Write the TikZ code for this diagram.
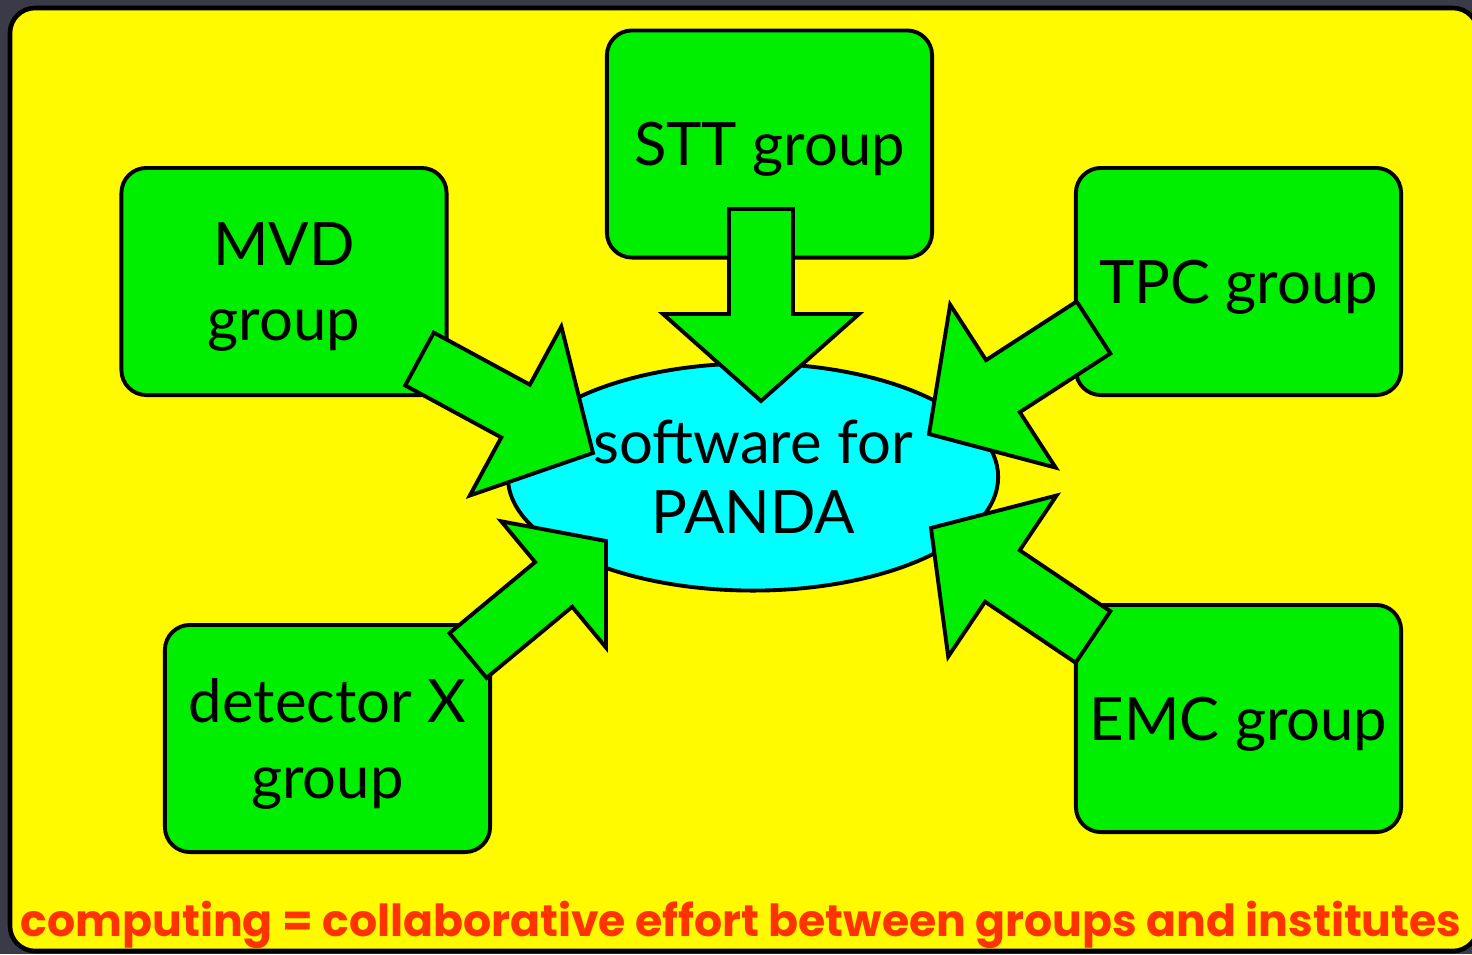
\documentclass[tikz,border=0pt]{standalone}
\usepackage{fontspec}
\setmainfont{Lato}
\newfontfamily\notefont{Poppins}
\usepackage{tikz}
\usetikzlibrary{positioning,calc,shapes.geometric}
\definecolor{myyel}{RGB}{255,250,0}
\definecolor{mygre}{RGB}{0,238,0}
\definecolor{mycya}{RGB}{0,255,255}
\definecolor{myred}{RGB}{255,51,0}
\definecolor{myslate}{RGB}{58,58,72}
\tikzstyle{group} = [rectangle, rounded corners=0.25cm, minimum width=3.25cm, minimum height=2.27cm, inner sep=0pt, text depth=0pt, text centered, align=center, draw=black, line width=1.1pt, fill=mygre, text=black, font=\fontsize{17}{21.5}\selectfont]
\tikzstyle{core} = [ellipse, minimum width=4.9cm, minimum height=2.27cm, inner sep=0pt, text centered, align=center, draw=black, line width=1.1pt, fill=mycya, text=black, font=\fontsize{17}{20}\selectfont]
\tikzstyle{fat} = [draw=black, line width=1.1pt, fill=mygre, line join=miter]
\newcommand{\fatarrow}[5]{%
  \coordinate (fa-base) at ($(#2)!#5!(#1)$);
  \draw[fat] ($(#1)!#3!90:(#2)$) -- ($(fa-base)!#3!90:(#2)$) -- ($(fa-base)!#4!90:(#2)$) -- (#2)
    -- ($(fa-base)!#4!-90:(#2)$) -- ($(fa-base)!#3!-90:(#2)$) -- ($(#1)!#3!-90:(#2)$) -- cycle;}

\begin{document}
\begin{tikzpicture}[x=0.01cm,y=-0.01cm]
	\useasboundingbox (0,0) rectangle (1472,954);
	\clip (0,0) rectangle (1472,954);
	\fill[myslate] (0,0) rectangle (1472,954);
	\draw[fill=myyel, line width=1.3pt, rounded corners=0.25cm] (10,8) rectangle (1478,951);
	\node (stt)[group] at (769.5,144) {STT group};
	\node (mvd)[group] at (284,281.5) {MVD\\group};
	\node (tpc)[group] at (1238.5,281.5) {TPC group};
	\node (detx)[group] at (327.5,738.5) {detector X\\group};
	\node (emc)[group] at (1238.5,718.5) {EMC group};
	\node (soft)[core] at (753,477) {software for\\PANDA};
	\coordinate (stt-out) at (761,209);
	\coordinate (stt-in) at (761,401);
	\coordinate (mvd-out) at (419.5,359);
	\coordinate (mvd-in) at (593,453);
	\coordinate (tpc-out) at (1093.5,327.5);
	\coordinate (tpc-in) at (929,434);
	\coordinate (emc-out) at (1093,637);
	\coordinate (emc-in) at (931,528);
	\coordinate (detx-out) at (468,655.5);
	\coordinate (detx-in) at (606,541);
	\fatarrow{stt-out}{stt-in}{0.32cm}{0.98cm}{0.87cm}
	\fatarrow{mvd-out}{mvd-in}{0.30cm}{0.96cm}{0.88cm}
	\fatarrow{tpc-out}{tpc-in}{0.31cm}{0.97cm}{0.88cm}
	\fatarrow{emc-out}{emc-in}{0.31cm}{0.97cm}{0.86cm}
	\fatarrow{detx-out}{detx-in}{0.29cm}{0.82cm}{0.68cm}
	\node (note)[anchor=base west, inner sep=0pt, text=myred, font=\notefont\bfseries] at (20,936) {\resizebox{14.4cm}{!}{computing = collaborative effort between groups and institutes}};
\end{tikzpicture}
\end{document}
